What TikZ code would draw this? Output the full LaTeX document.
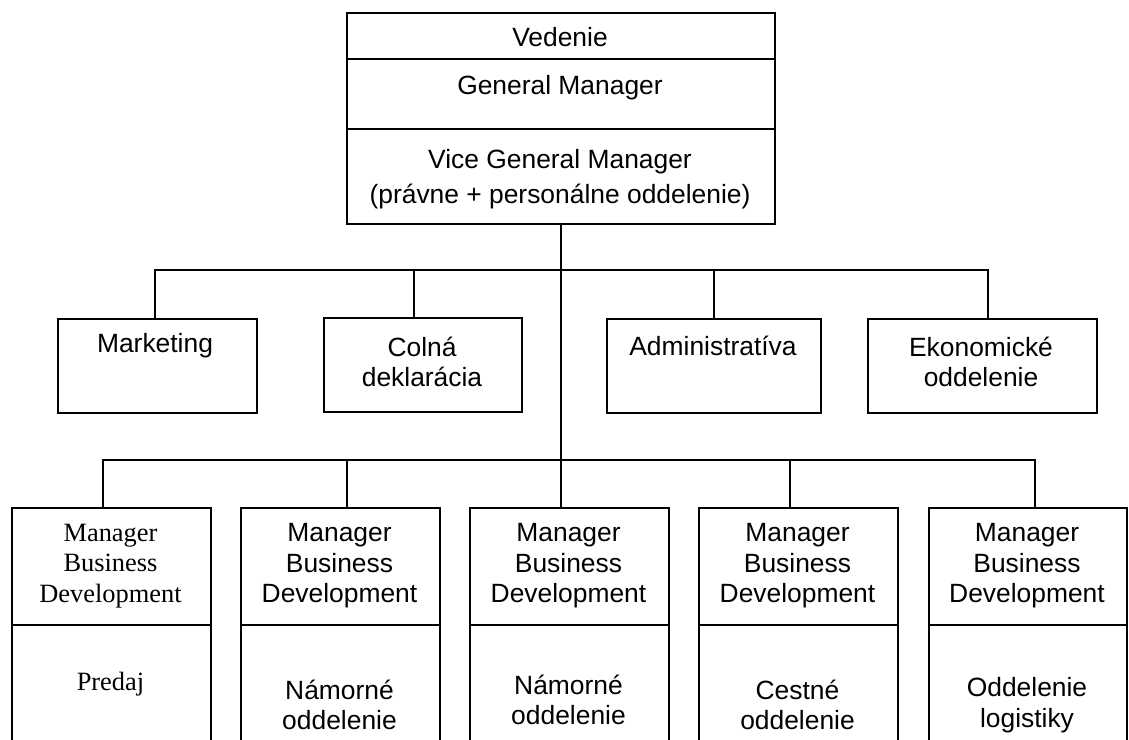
\documentclass[tikz,border=0pt]{standalone}
\usepackage{fontspec}
\setmainfont{Liberation Sans}
\newfontfamily\timesfont{Liberation Serif}
\begin{document}
\begin{tikzpicture}[x=1bp,y=-1bp,
  cell/.style={draw, line width=1.6bp, inner sep=0pt, anchor=north west},
  conn/.style={draw, line width=1.6bp},
  txt/.style={font=\fontsize{26.5}{30.5}\selectfont, align=center, inner sep=0pt},
  txtwide/.style={font=\fontsize{26.5}{35}\selectfont, align=center, inner sep=0pt},
  txtserif/.style={font=\timesfont\fontsize{26.5}{30.5}\selectfont, align=center, inner sep=0pt}]
\useasboundingbox (0,0) rectangle (1129,740);
\clip (0,0) rectangle (1129,740);
\fill[white] (0,0) rectangle (1129,740);

% top box
\node[cell, minimum width=428bp, minimum height=46bp] (ved) at (346,12) {};
\node[cell, minimum width=428bp, minimum height=70bp] (gm) at (346,58) {};
\node[cell, minimum width=428bp, minimum height=95bp] (vgm) at (346,128) {};
\node[txt] (tved) at (560,37) {Vedenie};
\node[txt] (tgm) at (560,88) {General Manager};
\node[txtwide] (tvgm) at (560,179) {Vice General Manager\\(právne + personálne oddelenie)};

% middle row
\node[cell, minimum width=199bp, minimum height=94bp] (mkt) at (57,318) {};
\node[cell, minimum width=198bp, minimum height=94bp] (col) at (323,317) {};
\node[cell, minimum width=214bp, minimum height=94bp] (adm) at (606,318) {};
\node[cell, minimum width=229bp, minimum height=94bp] (eko) at (867,318) {};
\node[txt] (tmkt) at (155,346) {Marketing};
\node[txt] (tcol) at (422,362) {Colná\\deklarácia};
\node[txt] (tadm) at (713,346) {Administratíva};
\node[txt] (teko) at (981,362) {Ekonomické\\oddelenie};

% bottom row headers
\node[cell, minimum width=199bp, minimum height=117bp] (h1) at (11,507) {};
\node[cell, minimum width=199bp, minimum height=117bp] (h2) at (240,507) {};
\node[cell, minimum width=199bp, minimum height=117bp] (h3) at (469,507) {};
\node[cell, minimum width=199bp, minimum height=117bp] (h4) at (698,507) {};
\node[cell, minimum width=198bp, minimum height=117bp] (h5) at (928,507) {};
% bottom row lower cells (run off the page)
\node[cell, minimum width=199bp, minimum height=130bp] (l1) at (11,624) {};
\node[cell, minimum width=199bp, minimum height=130bp] (l2) at (240,624) {};
\node[cell, minimum width=199bp, minimum height=130bp] (l3) at (469,624) {};
\node[cell, minimum width=199bp, minimum height=130bp] (l4) at (698,624) {};
\node[cell, minimum width=198bp, minimum height=130bp] (l5) at (928,624) {};

\node[txtserif] (th1) at (110.5,566) {Manager\\Business\\Development};
\node[txt] (th2) at (339.5,566) {Manager\\Business\\Development};
\node[txt] (th3) at (568.5,566) {Manager\\Business\\Development};
\node[txt] (th4) at (797.5,566) {Manager\\Business\\Development};
\node[txt] (th5) at (1027,566) {Manager\\Business\\Development};
\node[txtserif] (tl1) at (110.5,684) {Predaj};
\node[txt] (tl2) at (339.5,705) {Námorné\\oddelenie};
\node[txt] (tl3) at (568.5,700) {Námorné\\oddelenie};
\node[txt] (tl4) at (797.5,705) {Cestné\\oddelenie};
\node[txt] (tl5) at (1027,705) {Oddelenie\\logistiky};

% connectors
\coordinate (j1) at (560,270);
\coordinate (j2) at (560,460);
\draw[conn] (vgm.south) -- (vgm.south |- h3.north);
\draw[conn] (mkt.north -| 155,0) |- (j1);
\draw[conn] (col.north -| 414,0) |- (j1);
\draw[conn] (adm.north) |- (j1);
\draw[conn] (eko.north -| 988,0) |- (j1);
\draw[conn] (h1.north -| 103,0) |- (j2);
\draw[conn] (h2.north -| 347,0) |- (j2);
\draw[conn] (h4.north -| 790,0) |- (j2);
\draw[conn] (h5.north -| 1035,0) |- (j2);
\end{tikzpicture}
\end{document}
